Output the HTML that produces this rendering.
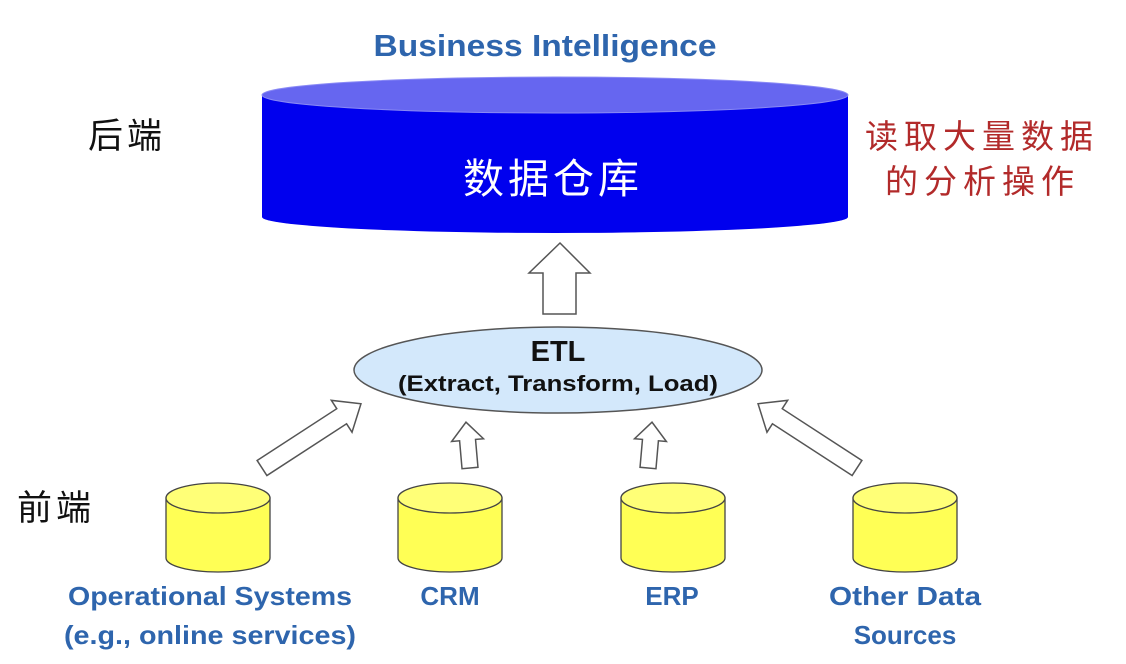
<!DOCTYPE html>
<html><head><meta charset="utf-8"><style>
html,body{margin:0;padding:0;background:#fff;}
svg{display:block;}
.cjk{font-family:"Liberation Sans","Noto Sans CJK SC",sans-serif;}
.lbl{font-family:"Liberation Sans",sans-serif;font-weight:bold;fill:#2e65ad;font-size:26px;text-anchor:middle;}
</style></head><body>
<svg width="1126" height="664" viewBox="0 0 1126 664" xmlns="http://www.w3.org/2000/svg">
<text x="545" y="56" class="lbl" style="font-size:31px" textLength="343" lengthAdjust="spacingAndGlyphs">Business Intelligence</text>
<text x="88" y="148" class="cjk" font-size="35" fill="#111" letter-spacing="4">后端</text>
<text x="17" y="520" class="cjk" font-size="35" fill="#111" letter-spacing="4">前端</text>
<text x="865" y="148" class="cjk" font-size="33" fill="#b22a2a" letter-spacing="6">读取大量数据</text>
<text x="885" y="193" class="cjk" font-size="33" fill="#b22a2a" letter-spacing="6">的分析操作</text>
<!-- top cylinder -->
<path d="M262,95 L262,217 A293,16 0 0 0 848,217 L848,95 Z" fill="#0000ee"/>
<ellipse cx="555" cy="95" rx="293" ry="18" fill="#6666f0" stroke="#8a8af5" stroke-width="1"/>
<text x="553" y="193" class="cjk" font-size="41" fill="#fff" text-anchor="middle" letter-spacing="4">数据仓库</text>
<!-- up arrow -->
<polygon points="560,243 590,273 576,273 576,314 543,314 543,273 529,273" fill="#fff" stroke="#555" stroke-width="1.5"/>
<!-- ETL -->
<ellipse cx="558" cy="370" rx="204" ry="43" fill="#d3e8fb" stroke="#555" stroke-width="1.5"/>
<text x="558" y="361" font-family="Liberation Sans,sans-serif" font-weight="bold" font-size="29" text-anchor="middle" fill="#111">ETL</text>
<text x="558" y="391" font-family="Liberation Sans,sans-serif" font-weight="bold" font-size="22" text-anchor="middle" fill="#111" textLength="320" lengthAdjust="spacingAndGlyphs">(Extract, Transform, Load)</text>
<!-- diagonal arrows -->
<g fill="#fff" stroke="#555" stroke-width="1.5">
<polygon transform="translate(262,468) rotate(-33)" points="0,-9 95,-9 95,-19 118,0 95,19 95,9 0,9"/>
<polygon transform="translate(857,468) rotate(-147)" points="0,-9 95,-9 95,-19 118,0 95,19 95,9 0,9"/>
<polygon transform="translate(470,468) rotate(-95)" points="0,-8 28,-8 28,-16 46,0 28,16 28,8 0,8"/>
<polygon transform="translate(648,468) rotate(-85)" points="0,-8 28,-8 28,-16 46,0 28,16 28,8 0,8"/>
</g>
<!-- yellow cylinders -->
<g stroke="#444" stroke-width="1.3">
<path d="M166,498 L166,558 A52,14 0 0 0 270,558 L270,498 Z" fill="#ffff55"/>
<ellipse cx="218" cy="498" rx="52" ry="15" fill="#ffff77"/>
<path d="M398,498 L398,558 A52,14 0 0 0 502,558 L502,498 Z" fill="#ffff55"/>
<ellipse cx="450" cy="498" rx="52" ry="15" fill="#ffff77"/>
<path d="M621,498 L621,558 A52,14 0 0 0 725,558 L725,498 Z" fill="#ffff55"/>
<ellipse cx="673" cy="498" rx="52" ry="15" fill="#ffff77"/>
<path d="M853,498 L853,558 A52,14 0 0 0 957,558 L957,498 Z" fill="#ffff55"/>
<ellipse cx="905" cy="498" rx="52" ry="15" fill="#ffff77"/>
</g>
<text x="210" y="605" class="lbl" textLength="284" lengthAdjust="spacingAndGlyphs">Operational Systems</text>
<text x="210" y="644" class="lbl" textLength="292" lengthAdjust="spacingAndGlyphs">(e.g., online services)</text>
<text x="450" y="605" class="lbl">CRM</text>
<text x="672" y="605" class="lbl">ERP</text>
<text x="905" y="605" class="lbl" textLength="152" lengthAdjust="spacingAndGlyphs">Other Data</text>
<text x="905" y="644" class="lbl">Sources</text>
</svg>
</body></html>
